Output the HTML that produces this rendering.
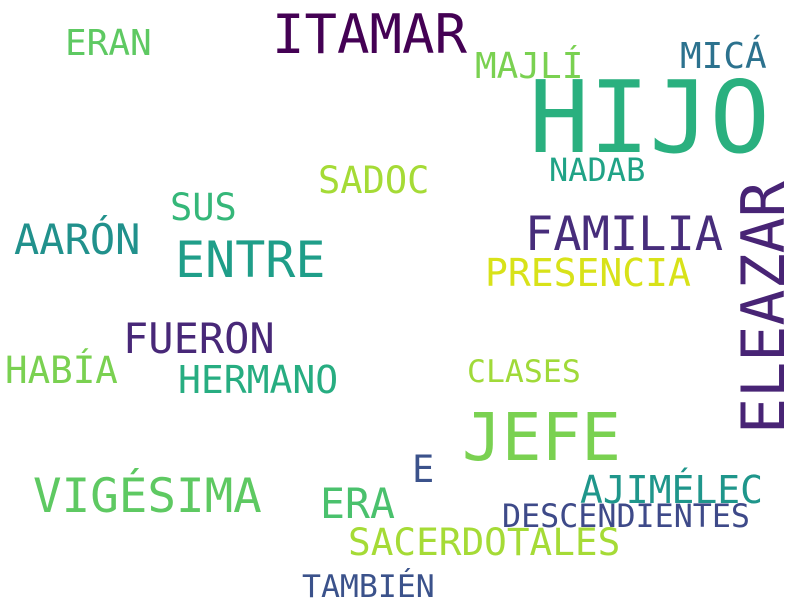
<!DOCTYPE html>
<html><head><meta charset="utf-8"><style>
html,body{margin:0;padding:0;background:#fff;}
svg{display:block;}
text{font-family:"DejaVu Sans Mono","Liberation Mono",monospace;}
</style></head><body>
<svg width="800" height="600">
<rect width="800" height="600" fill="#fff"/>
<g id="words"></g>
</svg>
<script>
const words=["ITAMAR","HIJO","ERAN","MAJLÍ","MICÁ","SADOC","NADAB","SUS","AARÓN","ENTRE","FAMILIA","ELEAZAR","PRESENCIA","FUERON","HABÍA","HERMANO","CLASES","JEFE","E","VIGÉSIMA","ERA","AJIMÉLEC","DESCENDIENTES","SACERDOTALES","TAMBIÉN"];
const sizes=[54,100,36,36,36,37,32,37,42,50,47,60,38,42,37.5,38,31.5,66,37,47.5,41.5,38,31.7,37.7,31.5];
const colors=["#440154","#2ab07f","#5ec962","#7ad151","#2c728e","#a5db36","#20a386","#35b779","#21918c","#1f9e89","#472d7b","#482475","#d8e219","#482878","#7ad151","#27ad81","#a0da39","#7ad151","#3b528b","#5ec962","#4ac16d","#1f968b","#3e4a89","#a5db36","#3b528b"];
const xs=[272,529,65,475,680,318,549,170,14,175,525,784,485,123,5,178,467,462,412,33,320,580,502,348,302];
const ys=[53,152,55,78,68,193,181,220,254,277,250,434,286,353,383,393,382,460,482,512,518,503,527,555,597];
const rot=[0,0,0,0,0,0,0,0,0,0,0,1,0,0,0,0,0,0,0,0,0,0,0,0,0];
const g=document.getElementById('words');
const NS="http://www.w3.org/2000/svg";
words.forEach((w,i)=>{
  const t=document.createElementNS(NS,'text');
  t.textContent=w;
  t.setAttribute('x',xs[i]);
  t.setAttribute('y',ys[i]);
  t.setAttribute('font-size',sizes[i]);
  t.setAttribute('fill',colors[i]);
  if(rot[i]) t.setAttribute('transform','rotate(-90 '+xs[i]+' '+ys[i]+')');
  
  
  g.appendChild(t);
});
</script>
</body></html>
